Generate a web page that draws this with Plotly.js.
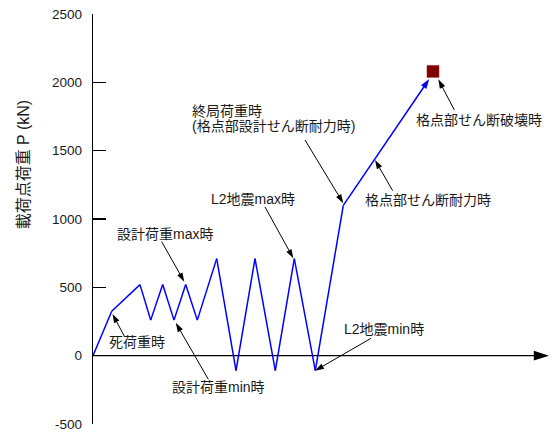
<!DOCTYPE html>
<html>
<head>
<meta charset="utf-8">
<script src="https://cdn.plot.ly/plotly-3.0.1.min.js"></script>
<style>
  html, body { margin: 0; padding: 0; background: #fff; }
  #chart { width: 552px; height: 434px; }
</style>
</head>
<body>
<div id="chart"></div>
<script>
// Load path: horizontal loading step (arbitrary units) and load at loading point P (kN)
const pathX = [0, 18.7, 47, 57.7, 69.7, 81, 92.7, 104.3, 123.7, 143, 162, 182.3, 201.3, 222.3, 250.3, 336.3];
const pathP = [0, 325, 520, 260, 520, 260, 520, 260, 710, -110, 710, -110, 710, -110, 1100, 2025];

// Shear failure of the panel joint
const failX = [340];
const failP = [2080];

// Y axis ticks and title
const yTicks = [-500, 0, 500, 1000, 1500, 2000, 2500];
const yTitle = '載荷点荷重 P (kN)';

// Callout texts
const labelText = [
  '死荷重時',
  '設計荷重max時',
  '設計荷重min時',
  'L2地震max時',
  '終局荷重時',
  '(格点部設計せん断耐力時)',
  '格点部せん断耐力時',
  '格点部せん断破壊時',
  'L2地震min時'
];

// Callout placement (layout only)
const labelPos = [
  { x: 43.7, y: 97,   anchor: 'center' },
  { x: 71.8, y: 890,  anchor: 'center' },
  { x: 125,  y: -227, anchor: 'center' },
  { x: 160,  y: 1147, anchor: 'center' },
  { x: 97,   y: 1790, anchor: 'left' },
  { x: 97,   y: 1681, anchor: 'left' },
  { x: 334.5, y: 1139, anchor: 'center' },
  { x: 386,  y: 1725, anchor: 'center' },
  { x: 291,  y: 192,  anchor: 'center' }
];

// Leader arrows, tail -> tip (layout only)
const leaders = [
  { x0: 31.5,  y0: 140,  x1: 19.5,  y1: 305 },
  { x0: 68.7,  y0: 834,  x1: 91.3,  y1: 541 },
  { x0: 115.3, y0: -173, x1: 82.8,  y1: 240 },
  { x0: 172,   y0: 1088, x1: 200.3, y1: 713 },
  { x0: 212,   y0: 1578, x1: 250.3, y1: 1115 },
  { x0: 299.7, y0: 1207, x1: 282,   y1: 1432 },
  { x0: 361.3, y0: 1798, x1: 345.3, y1: 2022 },
  { x0: 278,   y0: 127,  x1: 222,   y1: -110 }
];

const FONT = 'Liberation Sans, Arial, Noto Sans CJK JP, sans-serif';
const TEXT_COLOR = '#1a1a1a';

const traces = [];

// horizontal base line with arrow head
traces.push({
  x: [0, 456], y: [0, 0],
  mode: 'lines+markers',
  line: { color: '#000', width: 1.3 },
  marker: { symbol: 'arrow', angleref: 'previous', size: [0, 16], color: '#000', opacity: 1, line: { width: 0 } },
  hoverinfo: 'skip', cliponaxis: false
});

// leader arrows
leaders.forEach(a => {
  traces.push({
    x: [a.x0, a.x1], y: [a.y0, a.y1],
    mode: 'lines+markers',
    line: { color: '#000', width: 1 },
    marker: { symbol: 'arrow', angleref: 'previous', size: [0, 9.5], color: '#000', opacity: 1, line: { width: 0 } },
    hoverinfo: 'skip', cliponaxis: false
  });
});

// load path, ending in an arrow head
traces.push({
  x: pathX, y: pathP,
  mode: 'lines+markers',
  line: { color: '#0000ff', width: 1.5 },
  marker: {
    symbol: 'arrow', angleref: 'previous', color: '#0000ff', opacity: 1, line: { width: 0 },
    size: pathX.map((_, i) => (i === pathX.length - 1 ? 10.5 : 0))
  },
  hoverinfo: 'skip', cliponaxis: false
});

// failure point
traces.push({
  x: failX, y: failP,
  mode: 'markers',
  marker: { symbol: 'square', size: 12, color: '#800000', opacity: 1, line: { color: '#9a3030', width: 0.6 } },
  hoverinfo: 'skip', cliponaxis: false
});

const annotations = labelText.map((t, i) => ({
  text: t,
  x: labelPos[i].x, y: labelPos[i].y,
  xref: 'x', yref: 'y',
  xanchor: labelPos[i].anchor, yanchor: 'middle',
  showarrow: false,
  font: { family: FONT, size: 14, color: TEXT_COLOR }
}));

annotations.push({
  text: yTitle,
  xref: 'paper', yref: 'y',
  x: -70 / 457, y: 1400,
  xanchor: 'center', yanchor: 'middle',
  textangle: -90,
  showarrow: false,
  font: { family: FONT, size: 16, color: TEXT_COLOR }
});

const layout = {
  width: 552, height: 434,
  margin: { l: 93, r: 2, t: 14, b: 10, pad: 0 },
  paper_bgcolor: '#fff', plot_bgcolor: '#fff',
  showlegend: false,
  font: { family: FONT, color: TEXT_COLOR },
  xaxis: { range: [0, 457], visible: false, fixedrange: true },
  yaxis: {
    range: [-500, 2500],
    tickvals: yTicks,
    ticktext: yTicks.map(String),
    ticks: 'inside', ticklen: 13, tickwidth: 1.2, tickcolor: '#000',
    showline: true, linecolor: '#000', linewidth: 1.3,
    showgrid: false, zeroline: false,
    ticklabelstandoff: 7,
    tickfont: { family: FONT, size: 13.5, color: TEXT_COLOR },
    fixedrange: true
  },
  annotations: annotations
};

Plotly.newPlot('chart', traces, layout, { staticPlot: true, displayModeBar: false });
</script>
</body>
</html>
